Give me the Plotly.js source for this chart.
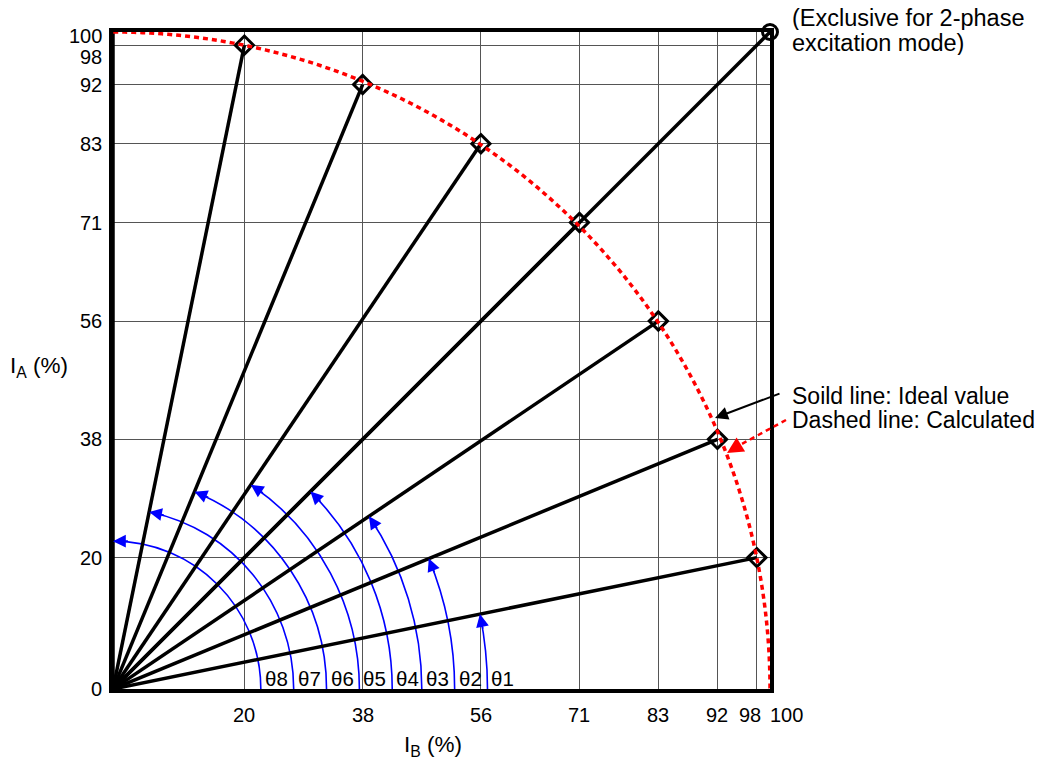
<!DOCTYPE html>
<html>
<head>
<meta charset="utf-8">
<script src="https://cdn.plot.ly/plotly-3.0.1.min.js"></script>
<style>html,body{margin:0;padding:0;background:#fff;}#chart{width:1037px;height:760px;}</style>
</head>
<body>
<div id="chart"></div>
<script>
// ---- data ----
const stepIB = [98, 92, 83, 71, 56, 38, 20, 0];
const stepIA = [20, 38, 56, 71, 83, 92, 98, 100];
const stepLabels = ["θ1", "θ2", "θ3", "θ4", "θ5", "θ6", "θ7", "θ8"];
const arcRadius = [57, 52, 47, 42.5, 37.5, 32.5, 27.5, 22.5];
const twoPhaseIB = [100];
const twoPhaseIA = [100];
const tickValues = [0, 20, 38, 56, 71, 83, 92, 98, 100];
const xTickLabels = ["", "20", "38", "56", "71", "83", "92", "98", "100"];
const yTickLabels = ["0", "20", "38", "56", "71", "83", "92", "98", "100"];
const noteLines = ["(Exclusive for 2-phase", "excitation mode)"];
const legendLines = ["Soild line: Ideal value", "Dashed line: Calculated"];

// ---- layout helpers ----
const W = 1037, H = 760, L = 113, T = 32, PW = 657, PH = 657;
const FONT = 'Arial, "Liberation Sans", sans-serif';
const px2x = p => (p - L) / PW;
const px2y = p => (T + PH - p) / PH;

const traces = [];
for (let i = 0; i < stepIB.length; i++) {
  traces.push({x: [0, stepIB[i]], y: [0, stepIA[i]], mode: 'lines', type: 'scatter',
    line: {color: '#000', width: 3.5}, hoverinfo: 'skip', cliponaxis: false, showlegend: false});
}
traces.push({x: [0, twoPhaseIB[0]], y: [0, twoPhaseIA[0]], mode: 'lines', type: 'scatter',
  line: {color: '#000', width: 3.5}, cliponaxis: false, showlegend: false});
traces.push({x: stepIB.slice(0, 7), y: stepIA.slice(0, 7), mode: 'markers', type: 'scatter',
  marker: {symbol: 'diamond-open', size: 14, color: '#000', line: {width: 3, color: '#000'}},
  cliponaxis: false, showlegend: false});
traces.push({x: twoPhaseIB, y: twoPhaseIA, mode: 'markers', type: 'scatter',
  marker: {symbol: 'circle-open', size: 15, color: '#000', line: {width: 3, color: '#000'}},
  cliponaxis: false, showlegend: false});

const shapes = [];
const annotations = [];
shapes.push({type: 'circle', xref: 'x', yref: 'y', x0: -100, y0: -100, x1: 100, y1: 100,
  line: {color: '#ff0000', width: 3.5, dash: '5px,4px'}, layer: 'above'});

for (let i = 0; i < stepIB.length; i++) {
  const r = arcRadius[i];
  const phi = Math.atan2(stepIA[i], stepIB[i]);
  const k = 4 / 3 * Math.tan(phi / 4);
  const c = Math.cos(phi), s = Math.sin(phi);
  const p = `M ${r},0 C ${r},${r * k} ${r * (c + k * s)},${r * (s - k * c)} ${r * c},${r * s}`;
  shapes.push({type: 'path', xref: 'x', yref: 'y', path: p, line: {color: '#0000ff', width: 1.6}, layer: 'between'});
  const tx = r * c, ty = r * s, d = 2.5;
  annotations.push({x: tx, y: ty, ax: tx + d * s, ay: ty - d * c, axref: 'x', ayref: 'y', xref: 'x', yref: 'y',
    text: '', showarrow: true, arrowhead: 2, arrowsize: 1.6, arrowwidth: 1.6, arrowcolor: '#0000ff', standoff: 0});
  annotations.push({x: r, y: 0, xref: 'x', yref: 'y', text: stepLabels[i], showarrow: false,
    xanchor: 'left', yanchor: 'bottom', xshift: 2, yshift: -3, font: {size: 20.5, color: '#000', family: FONT}});
}

const xShift = {"98": -7, "100": 16};
const yShift = {"98": -12, "100": -4};
tickValues.forEach((v, i) => {
  if (xTickLabels[i]) annotations.push({x: v, y: 0, xref: 'x', yref: 'paper', text: xTickLabels[i], showarrow: false,
    xanchor: 'center', yanchor: 'middle', yshift: -26, xshift: xShift[xTickLabels[i]] || 0,
    font: {size: 20, color: '#000', family: FONT}});
  annotations.push({x: 0, y: v, xref: 'paper', yref: 'y', text: yTickLabels[i], showarrow: false,
    xanchor: 'right', yanchor: 'middle', xshift: -9, yshift: yShift[yTickLabels[i]] || 0,
    font: {size: 20, color: '#000', family: FONT}});
});

annotations.push({x: px2x(39), y: px2y(367), xref: 'paper', yref: 'paper', text: 'I<sub>A</sub> (%)', showarrow: false,
  xanchor: 'center', yanchor: 'middle', font: {size: 22.5, color: '#000', family: FONT}});
annotations.push({x: px2x(433), y: px2y(746), xref: 'paper', yref: 'paper', text: 'I<sub>B</sub> (%)', showarrow: false,
  xanchor: 'center', yanchor: 'middle', font: {size: 22.5, color: '#000', family: FONT}});

const noteY = [17.5, 43];
noteLines.forEach((t, i) => annotations.push({x: px2x(790), y: px2y(noteY[i]), xref: 'paper', yref: 'paper', text: t,
  showarrow: false, xanchor: 'left', yanchor: 'middle', align: 'left', height: 24,
  font: {size: 23.5, color: '#000', family: FONT}}));
const legY = [395.5, 419];
legendLines.forEach((t, i) => annotations.push({x: px2x(790), y: px2y(legY[i]), xref: 'paper', yref: 'paper', text: t,
  showarrow: false, xanchor: 'left', yanchor: 'middle', align: 'left', height: 23,
  font: {size: 23, color: '#000', family: FONT}}));

annotations.push({x: px2x(715), y: px2y(418), ax: px2x(781), ay: px2y(393), xref: 'paper', yref: 'paper',
  axref: 'paper', ayref: 'paper', text: '', showarrow: true, arrowhead: 2, arrowsize: 1.3, arrowwidth: 2,
  arrowcolor: '#000', standoff: 0});
shapes.push({type: 'line', xref: 'paper', yref: 'paper', x0: px2x(786), y0: px2y(420), x1: px2x(738), y1: px2y(446),
  line: {color: '#ff0000', width: 2.5, dash: '5px,4px'}});
annotations.push({x: px2x(727), y: px2y(453), ax: px2x(740), ay: px2y(445), xref: 'paper', yref: 'paper',
  axref: 'paper', ayref: 'paper', text: '', showarrow: true, arrowhead: 2, arrowsize: 1.3, arrowwidth: 2.5,
  arrowcolor: '#ff0000', standoff: 0});

const axisCommon = {range: [0, 100], tickvals: tickValues, showticklabels: false, ticks: '',
  showgrid: true, gridcolor: '#555', gridwidth: 1, zeroline: false,
  showline: true, linecolor: '#000', linewidth: 4, mirror: true, fixedrange: true};

const layout = {
  width: W, height: H,
  margin: {l: L, r: W - L - PW, t: T, b: H - T - PH, pad: 0},
  paper_bgcolor: '#fff', plot_bgcolor: '#fff',
  font: {family: FONT, size: 20, color: '#000'},
  xaxis: Object.assign({}, axisCommon),
  yaxis: Object.assign({}, axisCommon),
  shapes: shapes, annotations: annotations, showlegend: false
};

Plotly.newPlot('chart', traces, layout, {displayModeBar: false, staticPlot: true});
</script>
</body>
</html>
